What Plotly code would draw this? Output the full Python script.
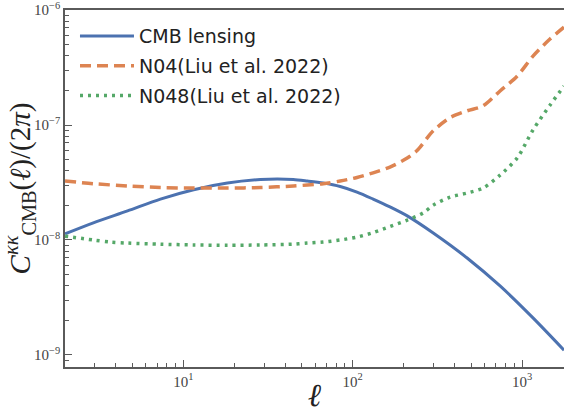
import plotly.graph_objects as go

# ---- data ----
ell_cmb = [2.0, 2.94, 4.68, 7.32, 11.5, 18.2, 28.5, 35.9, 44.6, 53.9, 67, 84.4, 106, 132, 166, 210, 299, 474, 742,
           1161, 1770]
cl_cmb = [1.13e-8, 1.41e-8, 1.79e-8, 2.27e-8, 2.74e-8, 3.13e-8, 3.36e-8, 3.39e-8, 3.36e-8, 3.26e-8, 3.13e-8,
          2.92e-8, 2.61e-8, 2.27e-8, 1.94e-8, 1.62e-8, 1.15e-8, 6.97e-9, 3.98e-9, 2.10e-9, 1.10e-9]

ell_n04 = [2.0, 2.94, 4.68, 7.32, 11.5, 18.2, 28.5, 44.6, 67, 84.4, 106, 132, 166, 210, 240, 299, 376, 474, 589,
           742, 935, 1161, 1463, 1770]
cl_n04 = [3.26e-8, 3.09e-8, 2.95e-8, 2.86e-8, 2.83e-8, 2.83e-8, 2.86e-8, 2.95e-8, 3.09e-8, 3.26e-8, 3.50e-8,
          3.84e-8, 4.31e-8, 5.16e-8, 6.0e-8, 8.9e-8, 1.16e-7, 1.33e-7, 1.47e-7, 1.98e-7, 2.66e-7, 3.98e-7, 5.6e-7,
          7.1e-7]

ell_n048 = [2.0, 2.94, 3.71, 4.68, 7.32, 11.5, 18.2, 28.5, 44.6, 53.9, 67, 84.4, 106, 132, 166, 210, 261, 299, 376,
            474, 589, 742, 935, 1161, 1463, 1770]
cl_n048 = [1.08e-8, 1.0e-8, 9.6e-9, 9.4e-9, 9.2e-9, 9.05e-9, 9.0e-9, 9.05e-9, 9.2e-9, 9.4e-9, 9.6e-9, 1.0e-8,
           1.06e-8, 1.16e-8, 1.31e-8, 1.49e-8, 1.72e-8, 2.01e-8, 2.36e-8, 2.56e-8, 2.83e-8, 3.67e-8, 5.16e-8,
           9.06e-8, 1.49e-7, 2.18e-7]

names = ["CMB lensing", "N04(Liu et al. 2022)", "N048(Liu et al. 2022)"]

x_tickvals = [10, 100, 1000]
x_ticktext = ["10<sup>1</sup>", "10<sup>2</sup>", "10<sup>3</sup>"]
y_tickvals = [1e-9, 1e-8, 1e-7, 1e-6]
y_ticktext = ["10<sup>\u22129</sup>", "10<sup>\u22128</sup>", "10<sup>\u22127</sup>", "10<sup>\u22126</sup>"]

x_minor = [m * 10 ** d for d in range(0, 4) for m in range(2, 10)]
y_minor = [m * 10.0 ** d for d in range(-10, -6) for m in range(2, 10)]

BLUE, ORANGE, GREEN = "#4C72B0", "#DD8452", "#55A868"
AX = "#5a5a5a"

fig = go.Figure()
fig.add_trace(go.Scatter(x=ell_cmb, y=cl_cmb, mode="lines", name=names[0], legendgroup="a",
                         line=dict(color=BLUE, width=3, shape="spline", smoothing=0.8)))
fig.add_trace(go.Scatter(x=ell_n04, y=cl_n04, mode="lines", name=names[1], legendgroup="b",
                         line=dict(color=ORANGE, width=3.5, dash="11px,6px", shape="spline", smoothing=0.8)))
fig.add_trace(go.Scatter(x=ell_n048, y=cl_n048, mode="lines", name=names[2], legendgroup="c",
                         line=dict(color=GREEN, width=3.5, dash="3px,5px", shape="spline", smoothing=0.8)))

serif = "Liberation Serif, DejaVu Serif, serif"

fig.update_layout(
    width=564, height=413,
    margin=dict(l=65, r=0, t=10, b=46),
    paper_bgcolor="white", plot_bgcolor="white",
    showlegend=True,
    legend=dict(x=0.02, y=0.98, xanchor="left", yanchor="top", bgcolor="rgba(0,0,0,0)",
                font=dict(family="DejaVu Sans, sans-serif", size=19, color="#222222"),
                tracegroupgap=2, itemwidth=54),
    font=dict(family=serif, color="#333333"),
)

fig.update_xaxes(
    type="log", range=[0.301, 3.248],
    showgrid=False, zeroline=False,
    showline=True, linecolor=AX, linewidth=1.5, mirror=True,
    ticks="inside", ticklen=7, tickwidth=1, tickcolor=AX,
    tickmode="array", tickvals=x_tickvals, ticktext=x_ticktext,
    tickfont=dict(family=serif, size=15, color="#444444"),
    minor=dict(ticks="inside", ticklen=4, tickwidth=1, tickcolor=AX, tickmode="array", tickvals=x_minor,
               showgrid=False),
    title=dict(text="<i>\u2113</i>", font=dict(family=serif, size=32, color="#222222"), standoff=2),
)
fig.update_yaxes(
    type="log", range=[-9.105, -5.999],
    showgrid=False, zeroline=False,
    showline=True, linecolor=AX, linewidth=1.5, mirror=False,
    ticks="inside", ticklen=7, tickwidth=1, tickcolor=AX,
    tickmode="array", tickvals=y_tickvals, ticktext=y_ticktext,
    tickfont=dict(family=serif, size=15, color="#444444"),
    minor=dict(ticks="inside", ticklen=4, tickwidth=1, tickcolor=AX, tickmode="array", tickvals=y_minor,
               showgrid=False),
    title=dict(text="<i>C</i><sup><i>\u03ba\u03ba</i></sup><sub>CMB</sub>(<i>\u2113</i>)/(2<i>\u03c0</i>)",
               font=dict(family=serif, size=29, color="#222222"), standoff=4),
)

fig.write_html("out.html")
